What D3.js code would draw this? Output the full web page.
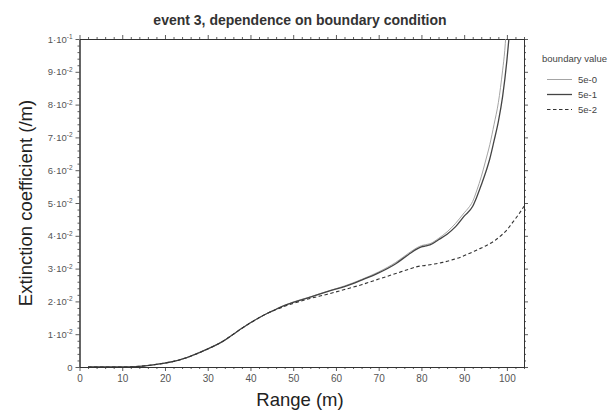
<!DOCTYPE html>
<html>
<head>
<meta charset="utf-8">
<script src="https://cdn.jsdelivr.net/npm/d3@7"></script>
<style>
  html, body { margin: 0; padding: 0; background: #fff; }
  svg { display: block; font-family: "Liberation Sans", Arial, sans-serif; }
</style>
</head>
<body>
<svg id="chart" width="612" height="412"></svg>
<script>
// ---- data ----
const title = "event 3, dependence on boundary condition";
const xLabel = "Range (m)";
const yLabel = "Extinction coefficient (/m)";
const legendTitle = "boundary value";
const seriesNames = ["5e-0", "5e-1", "5e-2"];

const range50 = [2, 10, 14, 18, 20, 23, 26, 30, 34, 36, 38, 40, 42, 44, 46, 48, 50, 54, 58, 62, 66, 70, 74, 77, 79, 80, 81, 82, 84, 86, 88, 90, 91, 92, 93, 94, 95, 96, 97, 98, 99, 99.5, 100, 100.5];
const ext50  = [0, 0, 0.0002, 0.0008, 0.0012, 0.002, 0.0033, 0.0055, 0.0082, 0.0100, 0.0118, 0.0135, 0.0150, 0.0164, 0.0176, 0.0188, 0.0198, 0.0214, 0.0231, 0.0247, 0.0267, 0.0290, 0.0319, 0.0347, 0.0364, 0.0370, 0.0373, 0.0376, 0.0392, 0.0412, 0.0438, 0.0470, 0.0485, 0.0505, 0.0540, 0.0580, 0.0628, 0.0678, 0.0740, 0.0806, 0.0905, 0.0965, 0.1060, 0.1150];

const range51 = [2, 10, 14, 18, 20, 23, 26, 30, 34, 36, 38, 40, 42, 44, 46, 48, 50, 54, 58, 62, 66, 70, 74, 77, 79, 80, 81, 82, 84, 86, 88, 90, 92, 93, 94, 95, 96, 97, 98, 99, 100, 100.5, 101];
const ext51  = [0, 0, 0.0002, 0.0008, 0.0012, 0.002, 0.0033, 0.0055, 0.0082, 0.0100, 0.0118, 0.0135, 0.0150, 0.0164, 0.0176, 0.0188, 0.0197, 0.0213, 0.0230, 0.0245, 0.0265, 0.0287, 0.0315, 0.0343, 0.0360, 0.0366, 0.0369, 0.0372, 0.0388, 0.0405, 0.0428, 0.0460, 0.0490, 0.0520, 0.0555, 0.0592, 0.0635, 0.0690, 0.0748, 0.0825, 0.0935, 0.1005, 0.1080];

const range52 = [2, 10, 14, 18, 20, 23, 26, 30, 34, 36, 38, 40, 42, 44, 46, 48, 50, 54, 58, 62, 66, 70, 74, 77, 79, 81, 83, 85, 87, 89, 91, 93, 95, 97, 99, 100, 101, 102, 103, 104];
const ext52  = [0, 0, 0.0002, 0.0008, 0.0012, 0.002, 0.0033, 0.0055, 0.0082, 0.0100, 0.0118, 0.0135, 0.0150, 0.0164, 0.0175, 0.0185, 0.0194, 0.0209, 0.0222, 0.0236, 0.0251, 0.0268, 0.0285, 0.0298, 0.0306, 0.0310, 0.0314, 0.0319, 0.0326, 0.0334, 0.0345, 0.0357, 0.0369, 0.0384, 0.0405, 0.0418, 0.0435, 0.0452, 0.0470, 0.0490];

const xMajorTicks = [0, 10, 20, 30, 40, 50, 60, 70, 80, 90, 100];
const yMajorTicks = [0, 0.01, 0.02, 0.03, 0.04, 0.05, 0.06, 0.07, 0.08, 0.09, 0.1];

// ---- layout ----
const svg = d3.select("#chart");
const L = 79.5, R = 524, T = 39, B = 367;
const x = d3.scaleLinear().domain([0, 104]).range([L, R]);
const y = d3.scaleLinear().domain([0, 0.1]).range([B, T]);

const xMinor = d3.range(0, 104.01, 2).filter(v => v % 10 !== 0);
const yMinor = d3.range(0, 0.1001, 0.002).filter(v => Math.abs(Math.round(v * 100) - v * 100) > 1e-6);

const axisColor = "#333";
const labelColor = "#555";

svg.append("defs").append("clipPath").attr("id", "clip")
  .append("rect").attr("x", L).attr("y", T).attr("width", R - L).attr("height", B - T);

function styleAxis(g) {
  g.select(".domain").attr("stroke", axisColor).attr("stroke-width", 1);
  g.selectAll(".tick line").attr("stroke", axisColor).attr("stroke-width", 0.8);
}

// bottom
svg.append("g").attr("transform", `translate(0,${B})`)
  .call(d3.axisBottom(x).tickValues(xMinor).tickSize(2).tickFormat("").tickSizeOuter(0))
  .call(styleAxis);
const gxb = svg.append("g").attr("transform", `translate(0,${B})`)
  .call(d3.axisBottom(x).tickValues(xMajorTicks).tickSize(4).tickPadding(4).tickSizeOuter(0).tickFormat(d3.format("d")))
  .call(styleAxis);
gxb.selectAll("text").attr("fill", labelColor).attr("font-size", 10).attr("font-family", "Liberation Sans, Arial, sans-serif");

// top
svg.append("g").attr("transform", `translate(0,${T})`)
  .call(d3.axisTop(x).tickValues(xMinor).tickSize(2).tickFormat("").tickSizeOuter(0))
  .call(styleAxis);
svg.append("g").attr("transform", `translate(0,${T})`)
  .call(d3.axisTop(x).tickValues(xMajorTicks).tickSize(4).tickFormat("").tickSizeOuter(0))
  .call(styleAxis);

// left
svg.append("g").attr("transform", `translate(${L},0)`)
  .call(d3.axisLeft(y).tickValues(yMinor).tickSize(2).tickFormat("").tickSizeOuter(0))
  .call(styleAxis);
const gyl = svg.append("g").attr("transform", `translate(${L},0)`)
  .call(d3.axisLeft(y).tickValues(yMajorTicks).tickSize(4).tickPadding(3).tickSizeOuter(0).tickFormat(""))
  .call(styleAxis);

gyl.selectAll(".tick").each(function(d) {
  const t = d3.select(this).append("text")
    .attr("x", -7).attr("dy", "0.32em")
    .attr("text-anchor", "end")
    .attr("fill", labelColor)
    .attr("font-size", 9.5);
  if (d === 0) { t.text("0"); return; }
  const e = Math.floor(Math.log10(d) + 1e-9);
  const m = Math.round(d / Math.pow(10, e));
  t.append("tspan").text(m + "\u00B710");
  t.append("tspan").attr("font-size", 6.5).attr("dy", "-0.55em").text("-" + (-e));
});

// right
svg.append("g").attr("transform", `translate(${R},0)`)
  .call(d3.axisRight(y).tickValues(yMinor).tickSize(2).tickFormat("").tickSizeOuter(0))
  .call(styleAxis);
svg.append("g").attr("transform", `translate(${R},0)`)
  .call(d3.axisRight(y).tickValues(yMajorTicks).tickSize(4).tickFormat("").tickSizeOuter(0))
  .call(styleAxis);

// lines
const series = [
  { name: seriesNames[0], xs: range50, ys: ext50, stroke: "#9a9a9a", width: 0.9, dash: null },
  { name: seriesNames[1], xs: range51, ys: ext51, stroke: "#444", width: 1.3, dash: null },
  { name: seriesNames[2], xs: range52, ys: ext52, stroke: "#333", width: 1.1, dash: "3.5,2.5" }
];

const line = d3.line().x(d => x(d[0])).y(d => y(d[1])).curve(d3.curveMonotoneX);
const gl = svg.append("g").attr("clip-path", "url(#clip)");
series.forEach(s => {
  gl.append("path")
    .datum(d3.zip(s.xs, s.ys))
    .attr("d", line)
    .attr("fill", "none")
    .attr("stroke", s.stroke)
    .attr("stroke-width", s.width)
    .attr("stroke-dasharray", s.dash);
});

// titles
svg.append("text").attr("x", 300).attr("y", 25).attr("text-anchor", "middle")
  .attr("font-size", 14).attr("font-weight", "bold").attr("fill", "#333").text(title);
svg.append("text").attr("x", 300).attr("y", 406).attr("text-anchor", "middle")
  .attr("font-size", 18.5).attr("fill", "#222").text(xLabel);
svg.append("text").attr("transform", `translate(32,${(T + B) / 2}) rotate(-90)`)
  .attr("text-anchor", "middle").attr("font-size", 18.5).attr("fill", "#222").text(yLabel);

// legend
const lg = svg.append("g");
lg.append("text").attr("x", 542).attr("y", 62).attr("font-size", 9.5).attr("fill", "#444").text(legendTitle);
series.forEach((s, i) => {
  const yy = 79.5 + i * 15;
  lg.append("line").attr("x1", 547).attr("x2", 572).attr("y1", yy).attr("y2", yy)
    .attr("stroke", s.stroke).attr("stroke-width", s.width).attr("stroke-dasharray", s.dash);
  lg.append("text").attr("x", 578).attr("y", yy).attr("dy", "0.35em")
    .attr("font-size", 9.5).attr("fill", "#444").text(s.name);
});
</script>
</body>
</html>
